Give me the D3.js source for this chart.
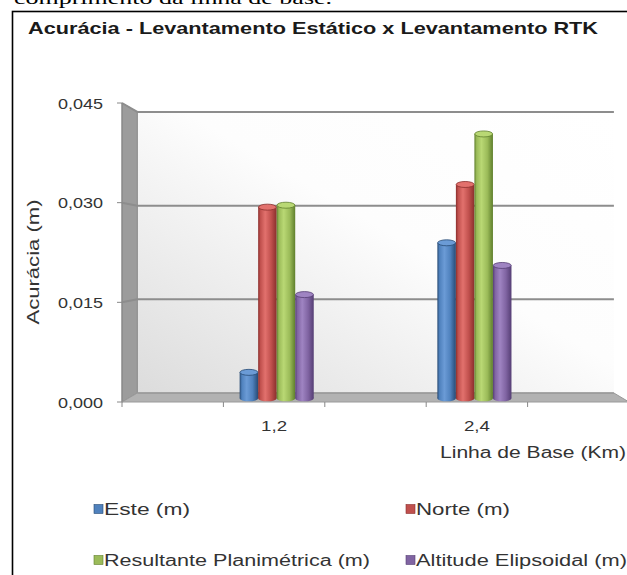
<!DOCTYPE html>
<html><head><meta charset="utf-8">
<script src="https://cdn.jsdelivr.net/npm/d3@7"></script>
<style>html,body{margin:0;padding:0;background:#fff;overflow:hidden}</style>
</head><body>
<svg id="c" width="627" height="575"></svg>
<script>
const categories = ["1,2", "2,4"];
const seriesNames = ["Este (m)", "Norte (m)", "Resultante Planimétrica (m)", "Altitude Elipsoidal (m)"];
const este = [0.004, 0.024];
const norte = [0.0295, 0.033];
const resultante = [0.0298, 0.0408];
const altitude = [0.016, 0.0205];
const yTicks = [0, 0.015, 0.030, 0.045];
const yTickLabels = ["0,000", "0,015", "0,030", "0,045"];
const series = [este, norte, resultante, altitude];
const colors = [
  {base:"#4F81BD", dark:"#274a74", light:"#6b9bd6"},
  {base:"#C0504D", dark:"#8a2e2c", light:"#e2716d"},
  {base:"#9BBB59", dark:"#5f7f2c", light:"#b9d874"},
  {base:"#8064A2", dark:"#553e74", light:"#9f84c2"}
];

const svg = d3.select("#c");
const font = "Arial, 'Liberation Sans', sans-serif";
const defs = svg.append("defs");

// perspective helpers
const cx = 377.5, cy = 252.5, kBack = 0.94, kBar = 0.975;
const P = (x, y, s) => [cx + (x - cx) * s, cy + (y - cy) * s];

const y = d3.scaleLinear().domain([0, 0.045]).range([402, 103]);
const slots = d3.range(categories.length * 2 + 1);
const x = d3.scaleBand().domain(slots).range([122, 629]);
const xSub = d3.scaleBand().domain(d3.range(series.length)).range([0, 76]);

// top cut-off caption text
svg.append("text").attr("x", 14).attr("y", 4).attr("font-family", "'Liberation Serif', 'Times New Roman', serif")
  .attr("font-size", 16).attr("fill", "#000").attr("textLength", 318).attr("lengthAdjust", "spacingAndGlyphs")
  .text("comprimento da linha de base.");

// chart border
svg.append("rect").attr("x", 12.5).attr("y", 11.5).attr("width", 640).attr("height", 600)
  .attr("fill", "#fff").attr("stroke", "#000").attr("stroke-width", 1.6);

// title
svg.append("text").attr("x", 28).attr("y", 34).attr("font-family", font).attr("font-weight", "bold")
  .attr("font-size", 16.5).attr("fill", "#1a1a1a").attr("textLength", 570).attr("lengthAdjust", "spacingAndGlyphs")
  .text("Acurácia - Levantamento Estático x Levantamento RTK");

// gradients
const gWall = defs.append("linearGradient").attr("id", "wall").attr("x1", "0").attr("y1", "1").attr("x2", "1").attr("y2", "0");
gWall.append("stop").attr("offset", "0").attr("stop-color", "#dcdcdc");
gWall.append("stop").attr("offset", "0.55").attr("stop-color", "#fdfdfd");
gWall.append("stop").attr("offset", "1").attr("stop-color", "#ffffff");
colors.forEach((c, i) => {
  const g = defs.append("linearGradient").attr("id", "bar" + i).attr("x1", "0").attr("x2", "1").attr("y1", "0").attr("y2", "0");
  [[0, c.dark], [0.12, c.base], [0.38, c.light], [0.7, c.base], [1, c.dark]].forEach(s =>
    g.append("stop").attr("offset", s[0]).attr("stop-color", s[1]));
});

const x0 = x.range()[0], x1 = x.range()[1];
const pt = a => a.join(",");
// back wall
const bw = [P(x0, y(0.045), kBack), P(x1, y(0.045), kBack), P(x1, y(0), kBack), P(x0, y(0), kBack)];
svg.append("polygon").attr("points", bw.map(pt).join(" ")).attr("fill", "url(#wall)");
// left wall
const lw = [[x0, y(0.045)], P(x0, y(0.045), kBack), P(x0, y(0), kBack), [x0, y(0)]];
svg.append("polygon").attr("points", lw.map(pt).join(" ")).attr("fill", "#9c9c9c").attr("stroke", "#8a8a8a").attr("stroke-width", 1);
// floor
const fl = [P(x0, y(0), kBack), P(x1, y(0), kBack), [x1, y(0)], [x0, y(0)]];
svg.append("polygon").attr("points", fl.map(pt).join(" ")).attr("fill", "#b2b2b2").attr("stroke", "#9a9a9a").attr("stroke-width", 1);

// gridlines
yTicks.filter(t => t > 0).forEach(t => {
  const a = [x0, y(t)], b = P(x0, y(t), kBack), c = P(x1, y(t), kBack);
  svg.append("polyline").attr("points", [a, b, c].map(pt).join(" ")).attr("fill", "none")
    .attr("stroke", "#8d8d8d").attr("stroke-width", 2);
});
svg.append("line").attr("x1", P(x0, y(0), kBack)[0]).attr("y1", P(x0, y(0), kBack)[1])
  .attr("x2", P(x1, y(0), kBack)[0]).attr("y2", P(x1, y(0), kBack)[1]).attr("stroke", "#9a9a9a").attr("stroke-width", 1.5);

// y axis line + ticks
svg.append("line").attr("x1", x0).attr("x2", x0).attr("y1", y(0.045)).attr("y2", y(0)).attr("stroke", "#888").attr("stroke-width", 1);
const ya = svg.append("g");
yTicks.forEach((t, i) => {
  ya.append("line").attr("x1", x0 - 5).attr("x2", x0).attr("y1", y(t)).attr("y2", y(t)).attr("stroke", "#888").attr("stroke-width", 1);
  ya.append("text").attr("x", 103).attr("y", y(t) + 5.5).attr("text-anchor", "end").attr("font-family", font)
    .attr("font-size", 15.5).attr("fill", "#333").attr("textLength", 45).attr("lengthAdjust", "spacingAndGlyphs")
    .text(yTickLabels[i]);
});

// x axis ticks
x.domain().concat([slots.length]).forEach(s => {
  const xx = s < slots.length ? x(s) : x1;
  svg.append("line").attr("x1", xx).attr("x2", xx).attr("y1", y(0)).attr("y2", y(0) + 5).attr("stroke", "#888").attr("stroke-width", 1);
});
categories.forEach((c, i) => {
  const s = i * 2 + 1;
  svg.append("text").attr("x", x(s) + x.bandwidth() / 2).attr("y", 431).attr("text-anchor", "middle")
    .attr("font-family", font).attr("font-size", 15.5).attr("fill", "#333")
    .attr("textLength", 26).attr("lengthAdjust", "spacingAndGlyphs").text(c);
});

// bars
const barsG = svg.append("g");
categories.forEach((c, ci) => {
  const s = ci * 2 + 1;
  const gx = x(s) + (x.bandwidth() - 76) / 2;
  series.forEach((ser, si) => {
    const v = ser[ci];
    const l = P(gx + xSub(si), y(v), kBar), r = P(gx + xSub(si) + xSub.bandwidth(), y(0), kBar);
    const w = r[0] - l[0], ry = 3;
    const g = barsG.append("g");
    g.append("ellipse").attr("cx", l[0] + w / 2).attr("cy", r[1]).attr("rx", w / 2).attr("ry", ry).attr("fill", "url(#bar" + si + ")");
    g.append("rect").attr("x", l[0]).attr("y", l[1]).attr("width", w).attr("height", r[1] - l[1]).attr("fill", "url(#bar" + si + ")");
    g.append("ellipse").attr("cx", l[0] + w / 2).attr("cy", l[1]).attr("rx", w / 2 - 0.3).attr("ry", ry)
      .attr("fill", colors[si].light).attr("stroke", colors[si].dark).attr("stroke-width", 0.8);
  });
});

// axis titles
svg.append("text").attr("transform", "translate(39,262) rotate(-90)").attr("text-anchor", "middle")
  .attr("font-family", font).attr("font-size", 16).attr("fill", "#333")
  .attr("textLength", 125).attr("lengthAdjust", "spacingAndGlyphs").text("Acurácia (m)");
svg.append("text").attr("x", 626).attr("y", 458).attr("text-anchor", "end")
  .attr("font-family", font).attr("font-size", 16).attr("fill", "#333")
  .attr("textLength", 186).attr("lengthAdjust", "spacingAndGlyphs").text("Linha de Base (Km)");

// legend
const legW = [86, 94, 266, 211];
const leg = svg.append("g");
seriesNames.forEach((n, i) => {
  const lx = (i % 2 === 0) ? 94 : 406;
  const ly = (i < 2) ? 509 : 560;
  leg.append("rect").attr("x", lx).attr("y", ly - 4.5).attr("width", 9).attr("height", 9)
    .attr("fill", colors[i].base).attr("stroke", colors[i].dark).attr("stroke-width", 0.6);
  leg.append("text").attr("x", lx + 10).attr("y", ly + 6).attr("font-family", font).attr("font-size", 16)
    .attr("fill", "#333").attr("textLength", legW[i]).attr("lengthAdjust", "spacingAndGlyphs").text(n);
});
</script>
</body></html>
